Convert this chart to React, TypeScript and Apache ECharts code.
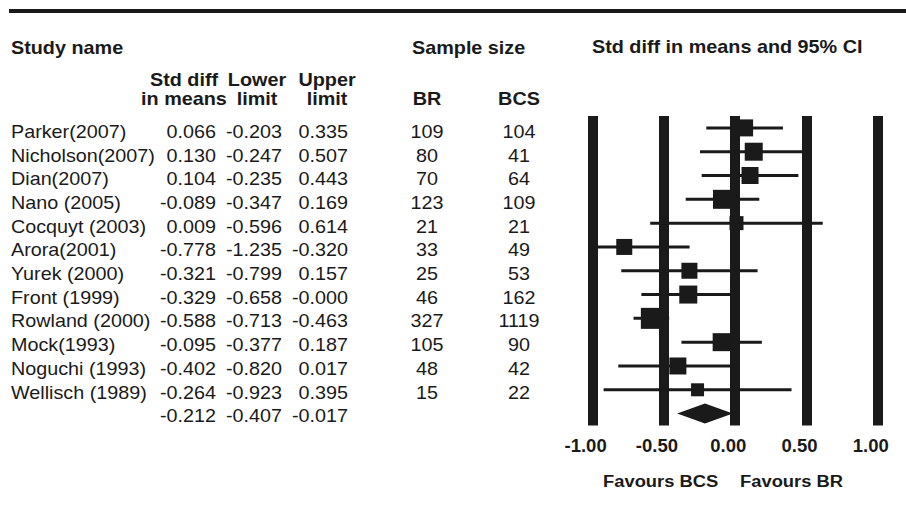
import React, { useEffect, useRef } from "react";
import * as echarts from "echarts";

const studies = [
  "Parker(2007)",
  "Nicholson(2007)",
  "Dian(2007)",
  "Nano (2005)",
  "Cocquyt (2003)",
  "Arora(2001)",
  "Yurek (2000)",
  "Front (1999)",
  "Rowland (2000)",
  "Mock(1993)",
  "Noguchi (1993)",
  "Wellisch (1989)",
];
const stdDiff = [0.066, 0.13, 0.104, -0.089, 0.009, -0.778, -0.321, -0.329, -0.588, -0.095, -0.402, -0.264];
const lowerLimit = [-0.203, -0.247, -0.235, -0.347, -0.596, -1.235, -0.799, -0.658, -0.713, -0.377, -0.82, -0.923];
const upperLimit = [0.335, 0.507, 0.443, 0.169, 0.614, -0.32, 0.157, -0.0, -0.463, 0.187, 0.017, 0.395];
const sampleBR = [109, 80, 70, 123, 21, 33, 25, 46, 327, 105, 48, 15];
const sampleBCS = [104, 41, 64, 109, 21, 49, 53, 162, 1119, 90, 42, 22];
const markerSize = [17, 18, 17, 19, 14, 16, 16, 18, 21, 18, 17, 13];
const summary = { mean: -0.212, lower: -0.407, upper: -0.017 };
const axisTicks = [-1, -0.5, 0, 0.5, 1];

const INK = "#1a1a1a";
const FONT = "'Liberation Sans', Arial, Helvetica, sans-serif";

function fmt(v: number): string {
  const neg = v < 0 || Object.is(v, -0);
  return (neg ? "-" : "") + Math.abs(v).toFixed(3);
}

function txt(
  text: string,
  x: number,
  y: number,
  align: string,
  opts: { bold?: boolean; size?: number; sx?: number } = {}
) {
  return {
    type: "text",
    x,
    y,
    scaleX: opts.sx ?? 1.04,
    silent: true,
    style: {
      text,
      fill: INK,
      fontFamily: FONT,
      fontSize: opts.size ?? 19,
      fontWeight: opts.bold ? "bold" : "normal",
      align,
      textAlign: align,
      verticalAlign: "middle",
      textVerticalAlign: "middle",
    },
  };
}

export default function App() {
  const ref = useRef<HTMLDivElement>(null);

  useEffect(() => {
    if (!ref.current) return;
    const chart = echarts.init(ref.current, null, { renderer: "svg" });

    const cats = [...studies, "Summary"];
    const rowY0 = 131;
    const rowStep = 23.7;

    const graphics: any[] = [
      { type: "rect", shape: { x: 9, y: 9, width: 897, height: 4 }, style: { fill: INK }, silent: true },
      txt("Study name", 11, 48, "left", { bold: true, size: 18, sx: 1.1 }),
      txt("Sample size", 412, 48, "left", { bold: true, size: 18, sx: 1.1 }),
      txt("Std diff in means and 95% CI", 592, 47, "left", { bold: true, size: 18, sx: 1.1 }),
      txt("Std diff", 184, 80, "center", { bold: true, size: 18, sx: 1.1 }),
      txt("in means", 184, 99, "center", { bold: true, size: 18, sx: 1.1 }),
      txt("Lower", 257, 80, "center", { bold: true, size: 18, sx: 1.1 }),
      txt("limit", 257, 99, "center", { bold: true, size: 18, sx: 1.1 }),
      txt("Upper", 327, 80, "center", { bold: true, size: 18, sx: 1.1 }),
      txt("limit", 327, 99, "center", { bold: true, size: 18, sx: 1.1 }),
      txt("BR", 427, 99, "center", { bold: true, size: 18, sx: 1.1 }),
      txt("BCS", 519, 99, "center", { bold: true, size: 18, sx: 1.1 }),
      txt("Favours BCS", 603, 481, "left", { bold: true, size: 17, sx: 1.08 }),
      txt("Favours BR", 740, 481, "left", { bold: true, size: 17, sx: 1.08 }),
    ];

    studies.forEach((name, i) => {
      const y = rowY0 + i * rowStep;
      graphics.push(txt(name, 11, y, "left"));
      graphics.push(txt(fmt(stdDiff[i]), 216, y, "right"));
      graphics.push(txt(fmt(lowerLimit[i]), 282, y, "right"));
      graphics.push(txt(fmt(upperLimit[i]), 348, y, "right"));
      graphics.push(txt(String(sampleBR[i]), 427, y, "center"));
      graphics.push(txt(String(sampleBCS[i]), 519, y, "center"));
    });
    const ySum = rowY0 + studies.length * rowStep;
    graphics.push(txt(fmt(summary.mean), 216, ySum, "right"));
    graphics.push(txt(fmt(summary.lower), 282, ySum, "right"));
    graphics.push(txt(fmt(summary.upper), 348, ySum, "right"));

    const ciData = studies.map((_, i) => [lowerLimit[i], upperLimit[i], i]);
    const pointData = studies.map((_, i) => [stdDiff[i], i, markerSize[i]]);

    chart.setOption({
      animation: false,
      grid: {
        left: 592.6,
        right: 28.2,
        top: 116,
        bottom: 89.5,
        outerBoundsMode: "none",
        containLabel: false,
      },
      xAxis: {
        type: "value",
        min: -1,
        max: 1,
        interval: 0.5,
        axisLine: { show: false },
        axisTick: { show: false },
        splitLine: { show: true, lineStyle: { color: INK, width: 10 } },
        axisLabel: {
          show: true,
          showMinLabel: true,
          showMaxLabel: true,
          margin: 10,
          color: INK,
          fontFamily: FONT,
          fontSize: 18.5,
          fontWeight: "bold",
          padding: [0, 14, 0, 0],
          formatter: (v: number) => (axisTicks.includes(v) ? v.toFixed(2) : ""),
        },
      },
      yAxis: {
        type: "category",
        data: cats,
        inverse: true,
        show: false,
      },
      series: [
        {
          type: "custom",
          clip: true,
          z: 3,
          data: ciData,
          encode: { x: [0, 1], y: 2 },
          renderItem: (_params: any, api: any) => {
            const p1 = api.coord([api.value(0), api.value(2)]);
            const p2 = api.coord([api.value(1), api.value(2)]);
            return {
              type: "line",
              shape: { x1: p1[0], y1: p1[1], x2: p2[0], y2: p2[1] },
              style: { stroke: INK, lineWidth: 3 },
            };
          },
        },
        {
          type: "scatter",
          z: 4,
          symbol: "rect",
          data: pointData,
          symbolSize: (val: number[]) => val[2],
          itemStyle: { color: INK, opacity: 1 },
          emphasis: { disabled: true },
        },
        {
          type: "custom",
          z: 4,
          data: [[summary.lower, summary.mean, summary.upper, studies.length]],
          encode: { x: [0, 1, 2], y: 3 },
          renderItem: (_params: any, api: any) => {
            const idx = api.value(3);
            const l = api.coord([api.value(0), idx]);
            const m = api.coord([api.value(1), idx]);
            const u = api.coord([api.value(2), idx]);
            return {
              type: "polygon",
              shape: {
                points: [
                  [l[0], l[1]],
                  [m[0], m[1] - 10],
                  [u[0], u[1]],
                  [m[0], m[1] + 10],
                ],
              },
              style: { fill: INK },
            };
          },
        },
      ],
      graphic: graphics,
    });

    return () => chart.dispose();
  }, []);

  return (
    <div
      ref={ref}
      style={{ position: "fixed", left: 0, top: 0, width: 906, height: 515, background: "#fff" }}
    />
  );
}
